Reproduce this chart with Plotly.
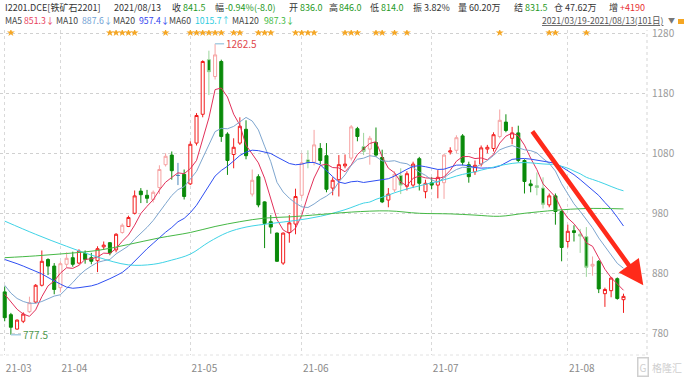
import plotly.graph_objects as go
import pandas as pd

# ---------------- data ----------------
holidays = ["2021-04-05", "2021-05-03", "2021-05-04", "2021-05-05", "2021-06-14"]
dates = [d.strftime("%Y-%m-%d") for d in pd.bdate_range("2021-03-19", "2021-08-13")
         if d.strftime("%Y-%m-%d") not in holidays]

opens = [849, 811, 787, 800, 816, 832, 860, 903, 892, 856,
         895, 906, 897, 913, 906, 901, 924, 931, 919, 948,
         958, 980, 1017, 1010, 1003, 1023, 1061, 1077, 1043, 1045,
         1029, 1097, 1145, 1236, 1208, 1233, 1112, 1078, 1097, 1120,
         1012, 1041, 999, 966, 947, 897, 948, 962, 1010, 1069,
         1065, 1088, 1076, 1022, 1036, 1059, 1072, 1121, 1091, 1087,
         1098, 1073, 1002, 1019, 1043, 1025, 1027, 1071, 1016, 1031,
         1027, 1031, 1082, 1085, 1109, 1061, 1049, 1062, 1087, 1088,
         1108, 1132, 1105, 1114, 1068, 1029, 1026, 1022, 994, 1009,
         983, 933, 951, 945, 941, 892, 900, 846, 851, 871, 836]
highs = [858, 814, 803, 815, 841, 862, 918, 905, 897, 900,
         915, 916, 920, 918, 914, 925, 933, 932, 947, 963,
         976, 1018, 1022, 1019, 1018, 1060, 1080, 1083, 1064, 1053,
         1100, 1147, 1235, 1251, 1262.5, 1236, 1115, 1105, 1140, 1135,
         1053, 1045, 1000, 977, 948, 948, 977, 1021, 1080, 1085,
         1119, 1097, 1097, 1040, 1077, 1078, 1127, 1124, 1114, 1109,
         1123, 1086, 1022, 1050, 1055, 1050, 1066, 1074, 1036, 1040,
         1052, 1079, 1090, 1110, 1112, 1066, 1068, 1093, 1094, 1115,
         1153, 1145, 1124, 1126, 1070, 1036, 1048, 1040, 1013, 1013,
         985, 961, 960, 954, 957, 908, 902, 856, 874, 873, 846]
lows = [800, 777.5, 786, 797, 814, 830, 858, 877, 845, 848,
        890, 891, 895, 896, 895, 882, 919, 910, 915, 946,
        957, 978, 997, 997, 998, 1012, 1058, 1036, 1027, 1003,
        1027, 1093, 1140, 1177, 1203, 1099, 1044, 1055, 1094, 1070,
        1008, 990, 922, 946, 899, 894, 931, 945, 1005, 1055,
        1060, 1062, 1015, 1010, 1008, 1055, 1068, 1100, 1077, 1061,
        1074, 997, 990, 1015, 1012, 1018, 1022, 1018, 1005, 1020,
        1005, 1004, 1078, 1080, 1060, 1031, 1044, 1058, 1080, 1083,
        1105, 1115, 1095, 1065, 1013, 1015, 1010, 988, 990, 961,
        900, 923, 933, 914, 874, 876, 847, 824, 840, 836, 814]
closes = [806, 790, 802, 812, 831, 860, 900, 892, 853, 896,
          905, 895, 917, 903, 900, 921, 927, 914, 945, 960,
          973, 1009, 1011, 1005, 1015, 1053, 1075, 1051, 1043, 1008,
          1095, 1143, 1233, 1216, 1244, 1108, 1068, 1090, 1125, 1076,
          1035, 994, 963, 957, 900, 947, 964, 1008, 1064, 1064,
          1094, 1068, 1020, 1035, 1061, 1062, 1124, 1108, 1083, 1105,
          1077, 999, 1012, 1045, 1027, 1046, 1062, 1030, 1030, 1027,
          1040, 1077, 1084, 1106, 1065, 1041, 1060, 1089, 1090, 1111,
          1135, 1118, 1114, 1068, 1033, 1026, 1023, 995, 1009, 983,
          923, 950, 948, 942, 890, 895, 854, 853, 872, 838, 841.5]

# days drawn in light tones by the terminal
light_up_days = [4, 9, 10, 19, 24, 25, 26, 34, 40, 48, 50, 56, 59, 63, 71, 73, 80, 95]
light_wick_down_days = [33, 49, 58, 64, 86, 87, 94]
light_down_days = [93]
doji_days = [28]
star_days = [1, 17, 18, 19, 20, 21, 26, 30, 31, 32, 33, 34, 35, 37, 38, 41, 42, 43,
             47, 48, 49, 50, 55, 56, 57, 60, 61, 63, 65, 80, 88, 89, 94]

ma5_head = [845, 833, 820, 812]
ma10_head = [860, 847, 838, 833, 830, 830, 833, 838, 842]
ma20_head = [903, 900, 896, 892, 888, 884, 879, 873, 867, 862,
             857, 855, 856, 857, 859, 862, 866, 871, 876]
ma60_head_idx = [0, 5, 10, 15, 20, 24, 27, 30, 33, 36, 39, 43, 47, 51, 55, 58]
ma60_head_val = [967, 945, 925, 907, 894, 895, 902, 912, 932, 948, 957, 963, 968, 975, 986, 997]
ma120_idx = [0, 5, 10, 15, 20, 25, 30, 34, 38, 42, 46, 51, 56, 62, 67, 72, 76, 80, 84, 89, 94, 100]
ma120_val = [906, 909, 913, 918, 928, 939, 948, 958, 966, 972, 974, 978, 982, 984, 980, 979,
             977, 975, 980, 985, 988, 987.3]

ma_last = {"MA5": "851.3↓", "MA10": "887.6↓", "MA20": "957.4↓", "MA60": "1015.7↑", "MA120": "987.3↓"}
low_label = 777.5
high_label = 1262.5

month_ticks = [i for i in range(len(dates)) if i == 0 or dates[i][5:7] != dates[i - 1][5:7]]
month_text = [dates[i][2:4] + "-" + dates[i][5:7] for i in month_ticks]

idx = list(range(len(dates)))

# ---------------- figure ----------------
fig = go.Figure()

RED = "#f21d1d"
PINK = "#f6a3a3"
GREEN = "#0a8a0a"
LGREEN = "#9bd59b"
BLUE_DOJI = "#4a86b8"


def style_of(i):
    if i in doji_days:
        return "doji"
    if i in light_up_days:
        return "pink"
    if i in light_down_days:
        return "lgreen"
    if i in light_wick_down_days:
        return "wick"
    return "red" if closes[i] > opens[i] else "green"


styles = {
    "red": (RED, "white"),
    "pink": (PINK, "white"),
    "green": (GREEN, GREEN),
    "wick": (LGREEN, GREEN),
    "lgreen": (LGREEN, LGREEN),
    "doji": (BLUE_DOJI, BLUE_DOJI),
}

for key, (lc, fc) in styles.items():
    sel = [i for i in idx if style_of(i) == key]
    if not sel:
        continue
    fig.add_trace(go.Candlestick(
        x=sel,
        open=[opens[i] for i in sel], high=[highs[i] for i in sel],
        low=[lows[i] for i in sel], close=[closes[i] for i in sel],
        increasing=dict(line=dict(color=lc, width=1), fillcolor=fc),
        decreasing=dict(line=dict(color=lc, width=1), fillcolor=fc),
        whiskerwidth=0, showlegend=False, hoverinfo="skip",
    ))

s = pd.Series(closes, dtype=float)
ma5 = ma5_head + s.rolling(5).mean().tolist()[len(ma5_head):]
ma10 = ma10_head + s.rolling(10).mean().tolist()[len(ma10_head):]
ma20 = ma20_head + s.rolling(20).mean().tolist()[len(ma20_head):]
ma60_calc = s.rolling(60).mean().tolist()
ma60_x = ma60_head_idx + idx[59:]
ma60_y = ma60_head_val + ma60_calc[59:]

line_specs = [
    (idx, ma5, "#e2305a", "linear"),
    (idx, ma10, "#7ea6cf", "linear"),
    (idx, ma20, "#2f4ff2", "linear"),
    (ma60_x, ma60_y, "#3fd3e6", "spline"),
    (ma120_idx, ma120_val, "#45b845", "spline"),
]
for xs, ys, col, shp in line_specs:
    fig.add_trace(go.Scatter(x=xs, y=ys, mode="lines", line=dict(color=col, width=1, shape=shp),
                             showlegend=False, hoverinfo="skip"))

fig.add_trace(go.Scatter(x=star_days, y=[1281] * len(star_days), mode="markers",
                         marker=dict(symbol="star", size=6, color="#f5a623"),
                         showlegend=False, hoverinfo="skip"))

W, H = 687, 380
L, R, T, B = 0, 40, 30, 25
PW, PH = W - L - R, H - T - B


def px(xp):
    return (xp - L) / PW


def py(yp):
    return (H - B - yp) / PH


ann = []
FONT = "Noto Sans CJK SC, Microsoft YaHei, sans-serif"


def txt(x, y, t, color="#333", size=9, **kw):
    ann.append(dict(x=px(x), y=py(y), xref="paper", yref="paper", text=t, showarrow=False,
                    xanchor="left", yanchor="middle", font=dict(size=size, color=color, family=FONT), **kw))


VG = "#1f9a1f"
row1 = [
    (3, "I2201.DCE[铁矿石2201]", "#333"), (112, "2021/08/13", "#333"),
    (170, "收", "#333"), (181, "841.5", VG),
    (213, "幅", "#333"), (223, "-0.94%(-8.0)", VG),
    (287, "开", "#333"), (298, "836.0", VG),
    (327, "高", "#333"), (337, "846.0", VG),
    (368, "低", "#333"), (379, "814.0", VG),
    (411, "振", "#333"), (422, "3.82%", "#333"),
    (456, "量", "#333"), (467, "60.20万", "#333"),
    (512, "结", "#333"), (523, "831.5", VG),
    (552, "仓", "#333"), (563, "47.62万", "#333"),
    (607, "增", "#333"), (618, "+4190", "#e83030"),
]
for x, t, c in row1:
    txt(x, 7, t, c)

ma_cols = {"MA5": "#e8405a", "MA10": "#6d9ed3", "MA20": "#3344ee", "MA60": "#2ccbe0", "MA120": "#3cb83c"}
row2_x = {"MA5": (3, 22), "MA10": (54, 80), "MA20": (111, 137), "MA60": (167, 193), "MA120": (230, 262)}
for k, v in ma_last.items():
    a, b = row2_x[k]
    txt(a, 20, k, "#444", size=8.7)
    txt(b, 20, v, ma_cols[k], size=8.7)

txt(540, 20, "<u>2021/03/19-2021/08/13(101日)</u>", "#555", size=8.6)
txt(666, 20, "▼", "#777", size=7)

# extreme labels
ann.append(dict(x=34, y=high_label, xref="x", yref="y", ax=9, ay=0, text=str(high_label),
                showarrow=True, arrowhead=0, arrowwidth=1.5, arrowcolor="#a9cfe3", xanchor="left",
                standoff=0, font=dict(size=10, color="#e0474c", family=FONT)))
ann.append(dict(x=1, y=low_label, xref="x", yref="y", ax=10, ay=0, text=str(low_label),
                showarrow=True, arrowhead=0, arrowwidth=1.5, arrowcolor="#a9cfe3", xanchor="left",
                standoff=0, font=dict(size=10, color="#4f9a4f", family=FONT)))

# drawn trend arrow
ann.append(dict(x=103.2, y=860, ax=85.1, ay=1119, xref="x", yref="y", axref="x", ayref="y",
                text="", showarrow=True, arrowhead=2, arrowsize=1.1, arrowwidth=4.5, arrowcolor="#ff2a1a"))

# watermark
ann.append(dict(x=px(637), y=py(367), xref="paper", yref="paper", text="G", showarrow=False,
                xanchor="left", yanchor="middle", bordercolor="#cfcfcf", borderwidth=1.5, borderpad=1,
                font=dict(size=10, color="#cfcfcf", family=FONT)))
ann.append(dict(x=px(650), y=py(367), xref="paper", yref="paper", text="格隆汇", showarrow=False,
                xanchor="left", yanchor="middle", font=dict(size=10, color="#cfcfcf", family=FONT)))

shapes = [
    dict(type="line", xref="paper", yref="paper", x0=1, x1=1, y0=0, y1=1,
         line=dict(color="#d5d5d5", width=1, dash="dot")),
    dict(type="line", xref="paper", yref="paper", x0=0, x1=1, y0=0, y1=0,
         line=dict(color="#e2e2e2", width=1, dash="dot")),
    dict(type="rect", xref="paper", yref="paper", x0=px(678), x1=px(684), y0=py(24), y1=py(19),
         fillcolor="#f5a623", line=dict(width=0)),
]

fig.update_layout(
    width=W, height=H, margin=dict(l=L, r=R, t=T, b=B, autoexpand=False),
    paper_bgcolor="white", plot_bgcolor="white",
    annotations=ann, shapes=shapes, showlegend=False,
    xaxis=dict(range=[-0.76, 103.8], tickvals=month_ticks, ticktext=month_text, automargin=False,
               showgrid=True, gridcolor="#d9d9d9", griddash="dot", gridwidth=1,
               zeroline=False, showline=False, ticks="", ticklabelshift=14, ticklabelstandoff=6,
               tickfont=dict(size=10, color="#8a8a8a", family=FONT),
               rangeslider=dict(visible=False), fixedrange=True),
    yaxis=dict(range=[743.8, 1285.5], side="right", tickvals=[780, 880, 980, 1080, 1180, 1280],
               automargin=False,
               showgrid=True, gridcolor="#d0d0d0", griddash="dot", gridwidth=1,
               zeroline=False, showline=False, ticks="", ticklabelstandoff=4,
               tickfont=dict(size=10, color="#9a9a9a", family=FONT), fixedrange=True),
)

fig.write_html("out.html", config={"displayModeBar": False},
               post_script="document.body.style.margin='0';document.documentElement.style.overflow='hidden';")
